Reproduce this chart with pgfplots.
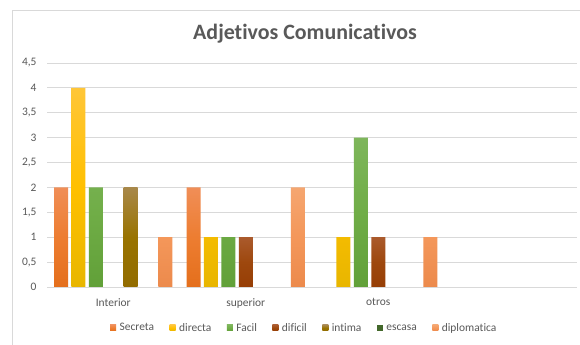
\documentclass[border=0pt]{standalone}
\usepackage{pgfplots}
\pgfplotsset{compat=1.18}
\usepackage{fontspec}
\setmainfont{Carlito}[Ligatures=NoCommon]
\definecolor{txt}{HTML}{595959}
\definecolor{grid}{HTML}{D9D9D9}
\definecolor{secT}{HTML}{F08E57}\definecolor{secM}{HTML}{ED7D31}\definecolor{secB}{HTML}{E46F1C}
\definecolor{dirT}{HTML}{FFC638}\definecolor{dirM}{HTML}{FFC000}\definecolor{dirB}{HTML}{E8B600}
\definecolor{facT}{HTML}{7EB65B}\definecolor{facM}{HTML}{70AD47}\definecolor{facB}{HTML}{61A038}
\definecolor{difT}{HTML}{AA5A2C}\definecolor{difM}{HTML}{9E480E}\definecolor{difB}{HTML}{963E05}
\definecolor{intT}{HTML}{A8884A}\definecolor{intM}{HTML}{997300}\definecolor{intB}{HTML}{926C00}
\definecolor{escM}{HTML}{43682B}
\definecolor{dipT}{HTML}{F5A670}\definecolor{dipM}{HTML}{F4975A}\definecolor{dipB}{HTML}{EC8A4C}
\begin{document}
\begin{tikzpicture}
\useasboundingbox (0,0) rectangle (580bp,345bp);
\clip (0,0) rectangle (580bp,345bp);
\fill[white] (0,0) rectangle (580bp,345bp);
\draw[grid, line width=0.8bp] (12bp,-10bp) -- (12bp,335bp) -- (600bp,335bp);
\node[font=\fontsize{22}{25}\selectfont\bfseries, text=txt] at (305bp,311bp) {Adjetivos Comunicativos};
\pgfplotsset{sq/.style={legend image code/.code={\path[##1, draw=none] (0bp,-3bp) rectangle (6bp,3bp);}}}
\begin{axis}[
  at={(47bp,58bp)}, anchor=south west,
  scale only axis, width=530bp, height=224bp,
  xmin=-0.5, xmax=3.5, ymin=0, ymax=4.5,
  ytick={0,0.5,1,1.5,2,2.5,3,3.5,4,4.5},
  xtick={0,1,2}, xticklabels={Interior,superior,otros},
  axis x line*=bottom, axis y line*=left,
  x axis line style={draw=grid, line width=0.8bp, -},
  y axis line style={draw=none},
  major tick length=0pt,
  ymajorgrids, grid style={draw=grid, line width=0.8bp},
  tick label style={font=\fontsize{11.5}{13}\selectfont, text=txt},
  /pgf/number format/use comma,
  /pgf/number format/fixed,
  /pgf/number format/assume math mode=true,
  yticklabel style={xshift=-7bp},
  xticklabel style={yshift=-8bp},
  ybar, bar width=14bp,
  legend columns=7,
  legend style={draw=none, fill=none, at={(0.485,-0.183)}, anchor=center,
    font=\fontsize{11.5}{13}\selectfont, text=txt,
    nodes={inner sep=1.5bp},
    /tikz/every odd column/.append style={column sep=2bp},
    /tikz/every even column/.append style={column sep=14bp}},
  legend cell align=left,
]
\addplot[sq, draw=none, top color=secT, bottom color=secB, middle color=secM, bar shift=-52.2bp] coordinates {(0,2) (1,2)};
\addlegendentry{Secreta}
\addplot[sq, draw=none, top color=dirT, bottom color=dirB, middle color=dirM, bar shift=-34.8bp] coordinates {(0,4) (1,1) (2,1)};
\addlegendentry{directa}
\addplot[sq, draw=none, top color=facT, bottom color=facB, middle color=facM, bar shift=-17.4bp] coordinates {(0,2) (1,1) (2,3)};
\addlegendentry{Facil}
\addplot[sq, draw=none, top color=difT, bottom color=difB, middle color=difM, bar shift=0bp] coordinates {(1,1) (2,1)};
\addlegendentry{dificil}
\addplot[sq, draw=none, top color=intT, bottom color=intB, middle color=intM, bar shift=17.4bp] coordinates {(0,2)};
\addlegendentry{intima}
\addlegendimage{sq, fill=escM}
\addlegendentry{escasa}
\addplot[sq, draw=none, top color=dipT, bottom color=dipB, middle color=dipM, bar shift=52.2bp] coordinates {(0,1) (1,2) (2,1)};
\addlegendentry{diplomatica}
\end{axis}
\end{tikzpicture}
\end{document}
